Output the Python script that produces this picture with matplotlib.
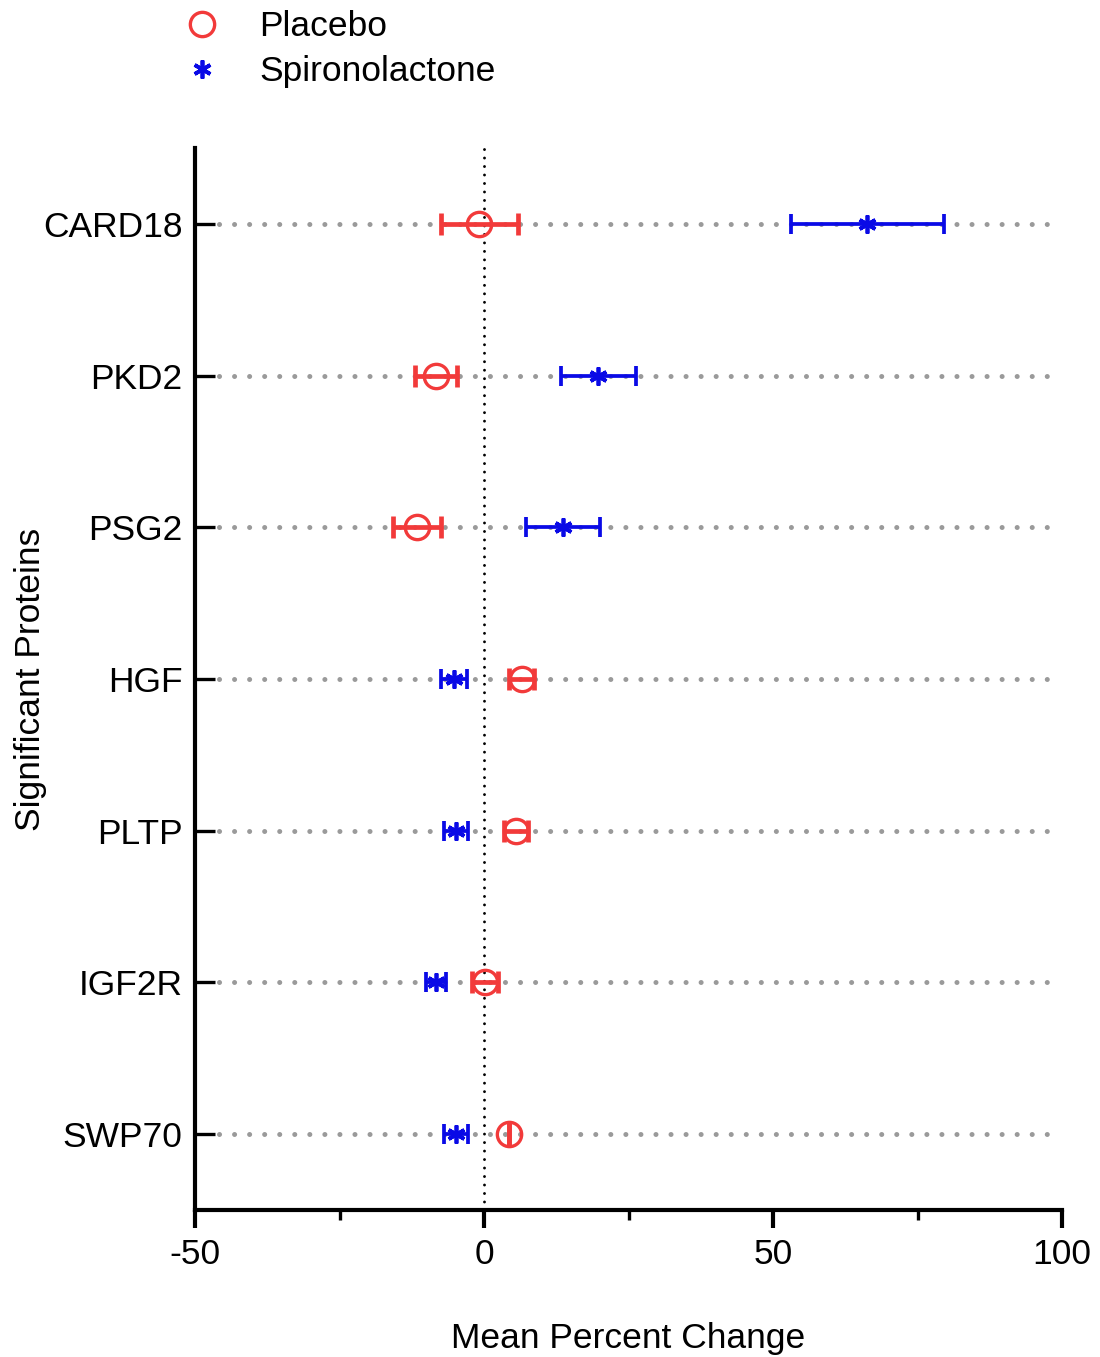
import matplotlib
matplotlib.use("Agg")
import matplotlib.pyplot as plt
from matplotlib.lines import Line2D
from matplotlib.ticker import FixedLocator

plt.rcParams['font.family'] = ['Liberation Sans', 'DejaVu Sans']

proteins = ["CARD18", "PKD2", "PSG2", "HGF", "PLTP", "IGF2R", "SWP70"]
placebo_mean = [-0.8, -8.3, -11.6, 6.5, 5.5, 0.2, 4.4]
placebo_err = [6.6, 3.7, 4.1, 2.2, 2.1, 2.2, 0.0]
spiro_mean = [66.3, 19.8, 13.6, -5.2, -4.8, -8.3, -4.8]
spiro_err = [13.2, 6.5, 6.4, 2.2, 2.1, 1.7, 2.1]

x_major = [-50, 0, 50, 100]
x_minor = [-25, 25, 75]

red = "#f23a3a"
blue = "#0a0ae6"
FS = 25.5

fig = plt.figure(figsize=(11, 13.57), dpi=100)
ax = fig.add_axes([195/1100, 1-1210/1357, (1062-195)/1100, (1210-148)/1357])

ypos = list(range(len(proteins)))

# gray dotted row lines
ax.hlines(ypos, -45.8, 98.4, colors="#9a9a9a", linewidth=3.6,
          linestyles=[(0, (0.01, 3.0))], zorder=1)
for coll in ax.collections:
    coll.set_capstyle('round')

# zero reference line
ax.axvline(0, color='black', linewidth=2.1, linestyle=(0, (0.01, 2.9)),
           dash_capstyle='round', zorder=2)

# error bars
ax.errorbar(placebo_mean, ypos, xerr=placebo_err, fmt='none', ecolor=red,
            elinewidth=3.4, capsize=8, capthick=3.4, zorder=3)
ax.errorbar(spiro_mean, ypos, xerr=spiro_err, fmt='none', ecolor=blue,
            elinewidth=2.7, capsize=7, capthick=2.7, zorder=3)

# markers
ast = (6, 2, 0)
ax.plot(placebo_mean, ypos, linestyle='none', marker='o', markersize=17.5,
        markerfacecolor='none', markeredgecolor=red, markeredgewidth=2.4, zorder=4)
ax.plot(spiro_mean, ypos, linestyle='none', marker=ast, markersize=13,
        markeredgecolor=blue, markerfacecolor=blue, markeredgewidth=2.7, zorder=4)

ax.set_xlim(-50, 100)
ax.set_ylim(6.5, -0.5)

ax.set_yticks(ypos)
ax.set_yticklabels(proteins, fontsize=FS)
ax.xaxis.set_major_locator(FixedLocator(x_major))
ax.xaxis.set_minor_locator(FixedLocator(x_minor))
ax.set_xticklabels([str(v) for v in x_major], fontsize=FS)

for s in ['top', 'right']:
    ax.spines[s].set_visible(False)
for s in ['left', 'bottom']:
    ax.spines[s].set_linewidth(3.0)
    ax.spines[s].set_capstyle('projecting')

ax.tick_params(axis='y', direction='in', length=14.5, width=2.4, pad=9)
ax.tick_params(axis='x', which='major', direction='out', length=13, width=3.0, pad=7)
ax.tick_params(axis='x', which='minor', direction='out', length=7, width=2.4)

ax.set_xlabel("Mean Percent Change", fontsize=FS, labelpad=37)
ax.set_ylabel("Significant Proteins", fontsize=FS, labelpad=-3)

handles = [
    Line2D([], [], linestyle='none', marker='o', markersize=17.5, markerfacecolor='none',
           markeredgecolor=red, markeredgewidth=2.4),
    Line2D([], [], linestyle='none', marker=ast, markersize=13, markerfacecolor=blue,
           markeredgecolor=blue, markeredgewidth=2.7),
]
fig.legend(handles, ["Placebo", "Spironolactone"], loc='upper left',
           bbox_to_anchor=(167/1100, 1+4/1357), frameon=False, fontsize=FS,
           handlelength=1.2, handletextpad=1.0, labelspacing=0.34, borderaxespad=0.0)

fig.savefig("out.png", dpi=100)
